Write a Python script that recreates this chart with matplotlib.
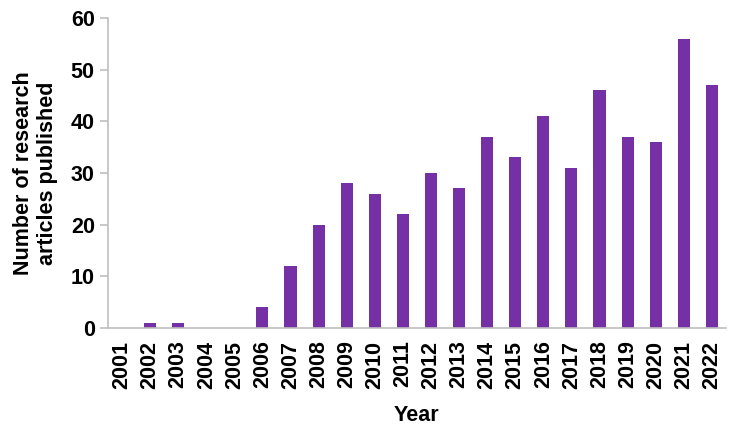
import matplotlib.pyplot as plt

years = [str(y) for y in range(2001, 2023)]
counts = [0, 1, 1, 0, 0, 4, 12, 20, 28, 26, 22, 30, 27, 37, 33, 41, 31, 46, 37, 36, 56, 47]
yticks = [0, 10, 20, 30, 40, 50, 60]

plt.rcParams['font.family'] = ['Liberation Sans', 'DejaVu Sans']
plt.rcParams['font.weight'] = 'bold'
fs = 15.5

fig = plt.figure(figsize=(7.31, 4.28), dpi=100)
ax = fig.add_axes([0.1477, 0.2336, 0.8453, 0.7244])

ax.bar(range(len(years)), counts, width=0.43, color='#7530A5', zorder=2)

ax.set_xlim(-0.5, len(years) - 0.5)
ax.set_ylim(0, 60)
ax.set_yticks(yticks)
ax.set_xticks(range(len(years)))
ax.set_xticklabels(years, rotation=90, fontsize=fs, fontweight='bold')
ax.set_yticklabels([str(v) for v in yticks], fontsize=fs, fontweight='bold')

for s in ['top', 'right']:
    ax.spines[s].set_visible(False)
for s in ['left', 'bottom']:
    ax.spines[s].set_color('#BFBFBF')
    ax.spines[s].set_linewidth(1.2)

ax.tick_params(axis='y', length=5.5, width=1.2, color='#BFBFBF', pad=4)
ax.tick_params(axis='x', length=0, pad=9)

ax.set_xlabel('Year', fontsize=fs, fontweight='bold', labelpad=12)
ax.set_ylabel('Number of research\narticles published', fontsize=fs, fontweight='bold', labelpad=9)

plt.savefig('out.png', dpi=100)
